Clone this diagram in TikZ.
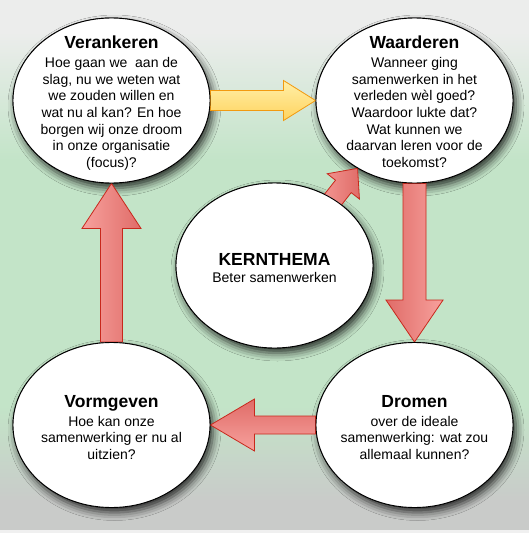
\documentclass[tikz,border=0pt]{standalone}
\usepackage{fontspec}
\setmainfont{Liberation Sans}
\usetikzlibrary{calc,shapes.geometric,shadows.blur}
\definecolor{bgtop}{HTML}{ECEDEC}
\definecolor{bgmid}{HTML}{C3E4C8}
\definecolor{bgbot}{HTML}{C9CBC9}
\definecolor{redlight}{HTML}{F7A19D}
\definecolor{reddark}{HTML}{E06C68}
\definecolor{redline}{HTML}{C8281C}
\definecolor{yellight}{HTML}{FFEFA8}
\definecolor{yeldark}{HTML}{FFD35E}
\definecolor{yelline}{HTML}{F29A10}
\pgfdeclareverticalshading{bgshade}{100bp}{color(0bp)=(bgbot); color(28bp)=(bgbot); color(37bp)=(bgmid); color(60bp)=(bgmid); color(72bp)=(bgtop); color(100bp)=(bgtop)}
\newcommand\blockarrow[6]{% style, from, to, shaft half, head half, head length
  \coordinate (hb) at ($(#3)!#6!(#2)$);
  \draw[#1] ($(#2)!#4!90:(#3)$) -- ($(hb)!#4!90:(#3)$) -- ($(hb)!#5!90:(#3)$)
    -- (#3) -- ($(hb)!#5!-90:(#3)$) -- ($(hb)!#4!-90:(#3)$) -- ($(#2)!#4!-90:(#3)$) -- cycle;
}
\tikzset{
  bubble/.style={ellipse, minimum width=197pt, minimum height=165pt, inner sep=0pt,
    fill=white, draw=black, line width=0.9pt},
  shadowed/.style={blur shadow={shadow xshift=3pt, shadow yshift=-5pt, shadow blur radius=8pt, shadow opacity=80}},
  bubbletext/.style={anchor=north, inner sep=0pt, align=center, font=\fontsize{14}{16.7}\selectfont},
  redarrow/.style={draw=redline, line width=0.8pt, line join=miter},
  yelarrow/.style={draw=yelline, line width=0.8pt, line join=miter, top color=yellight, bottom color=yeldark},
}
\newcommand\ttl[1]{{\fontsize{17.5}{19}\selectfont\bfseries #1}}
\begin{document}
\begin{tikzpicture}[x=1pt, y=-1pt]
\useasboundingbox (0,0) rectangle (529,533);
\fill[shading=bgshade] (0,0) rectangle (529,533);
\fill[white!88!gray] (0,530) rectangle (529,533);
% shadows + bodies
\node[bubble, shadowed] (ver) at (111.5,100.5) {};
\node[bubble, shadowed] (waa) at (414.5,100.5) {};
\node[bubble, shadowed] (kern) at (274.5,265.5) {};
\node[bubble, shadowed] (vor) at (111.5,425) {};
\node[bubble, shadowed] (dro) at (414.5,425) {};
% arrows
\coordinate (dtail) at ($(waa.230)+(-37,47)$);
\blockarrow{yelarrow}{ver.east}{waa.west}{10pt}{20pt}{32pt}
\blockarrow{redarrow, left color=redlight, right color=reddark}{vor.north}{ver.south}{11pt}{29.5pt}{45pt}
\blockarrow{redarrow, left color=reddark, right color=redlight}{waa.south}{dro.north}{11.5pt}{28.5pt}{42pt}
\blockarrow{redarrow, top color=reddark, bottom color=redlight}{dro.west}{vor.east}{9pt}{26pt}{44pt}
\blockarrow{redarrow, left color=redlight, right color=reddark}{dtail}{waa.230}{10pt}{20.5pt}{23pt}
% redraw bodies over arrow ends
\node[bubble] (verf) at (ver.center) {};
\node[bubble] (waaf) at (waa.center) {};
\node[bubble] (kernf) at (kern.center) {};
\node[bubble] (vorf) at (vor.center) {};
\node[bubble] (drof) at (dro.center) {};
% texts
\node[bubbletext] (vert) at ($(ver.center)+(0,-65)$) {\ttl{Verankeren}\\[2.3pt]
  Hoe gaan we~\ aan de\\slag, nu we weten wat\\we zouden willen en\\wat nu al kan? En hoe\\borgen wij onze droom\\in onze organisatie\\(focus)?};
\node[bubbletext] (waat) at ($(waa.center)+(0,-65)$) {\ttl{Waarderen}\\[2.3pt]
  Wanneer ging\\samenwerken in het\\verleden wèl goed?\\Waardoor lukte dat?\\Wat kunnen we\\daarvan leren voor de\\toekomst?};
\node[bubbletext] (kernt) at ($(kern.center)+(0,-12.5)$) {\ttl{KERNTHEMA}\\[0.3pt]
  Beter samenwerken};
\node[bubbletext] (vort) at ($(vor.center)+(0,-30)$) {\ttl{Vormgeven}\\[2.3pt]
  Hoe kan onze\\samenwerking er nu al\\uitzien?};
\node[bubbletext] (drot) at ($(dro.center)+(0,-30)$) {\ttl{Dromen}\\[2.3pt]
  over de ideale\\samenwerking: wat zou\\allemaal kunnen?};
\end{tikzpicture}
\end{document}
